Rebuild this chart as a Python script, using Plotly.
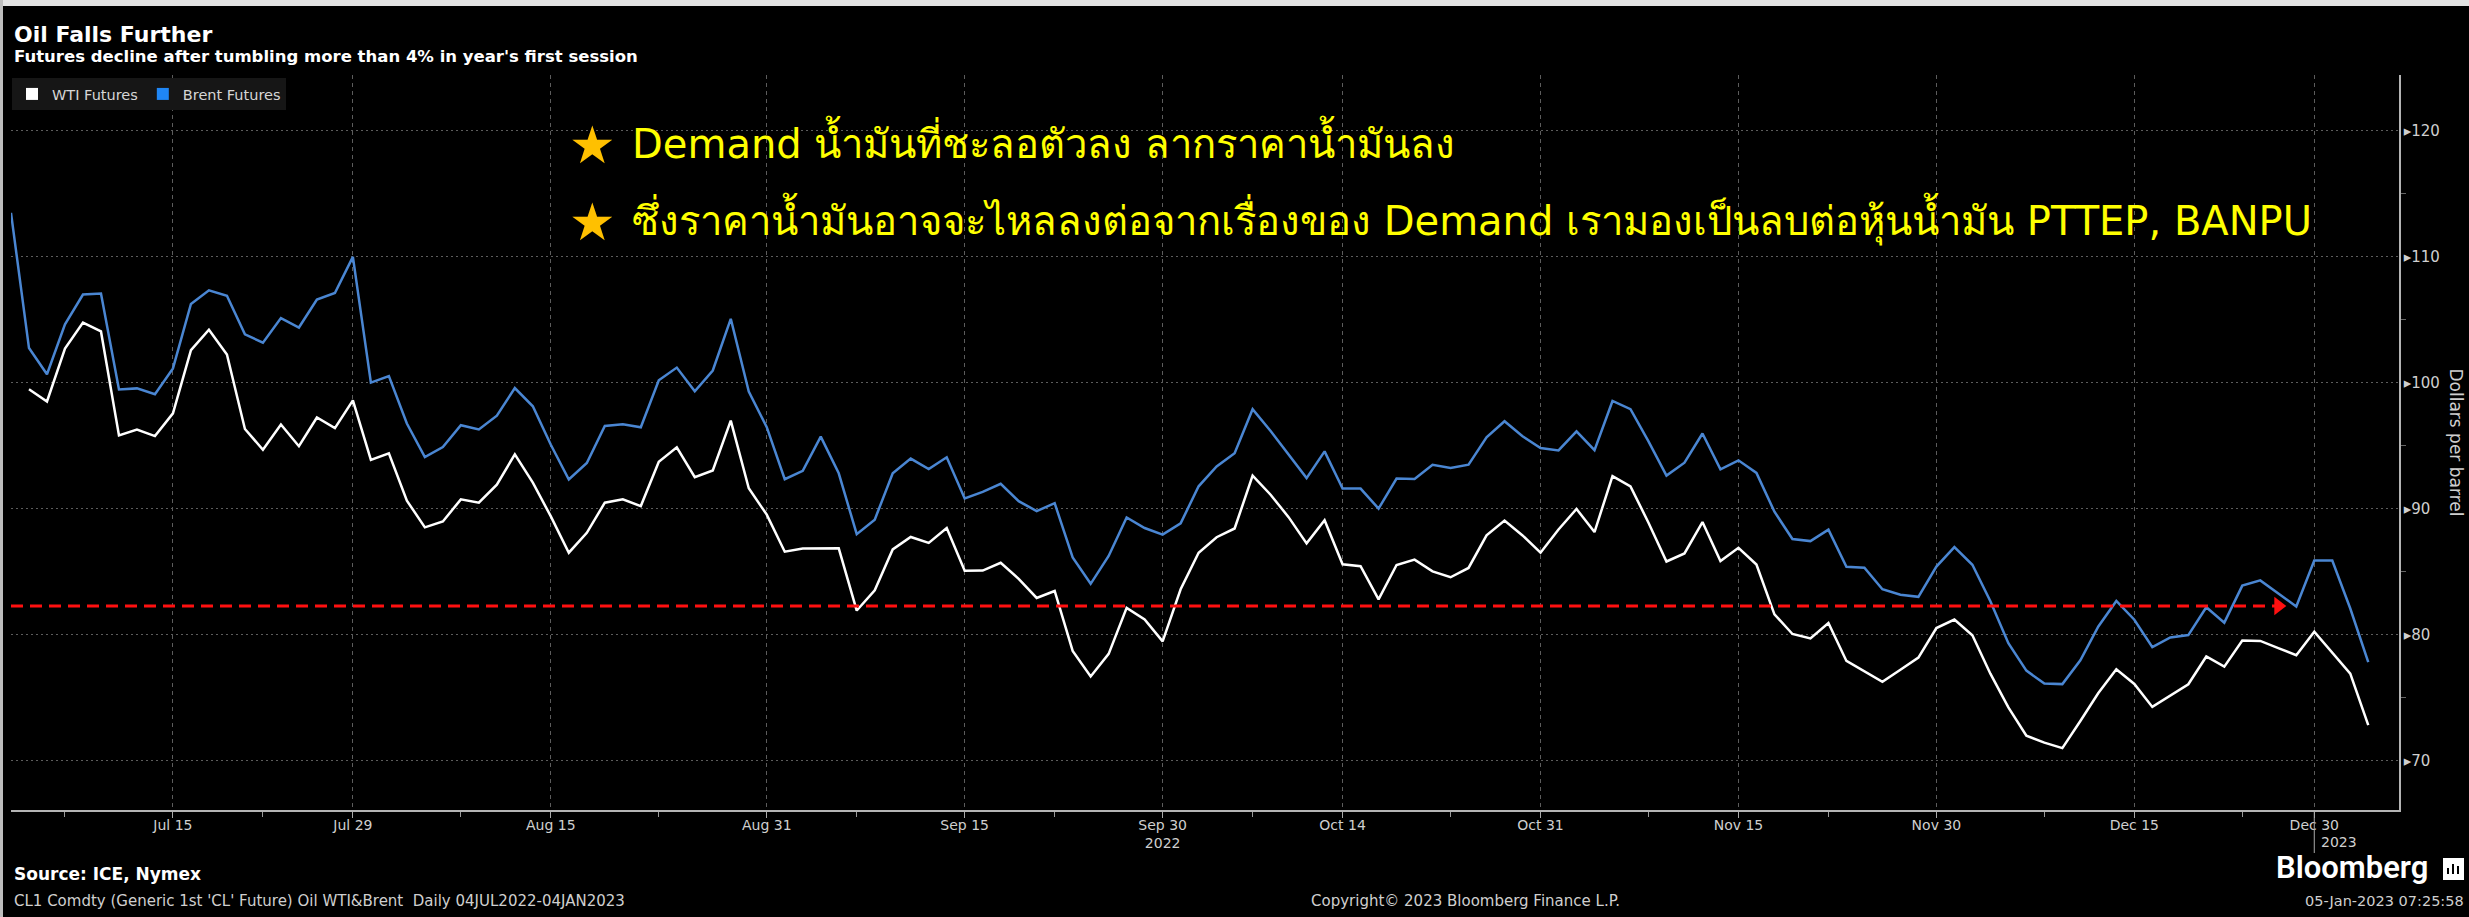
import pandas as pd
import plotly.graph_objects as go

# ---------------- data (weekday axis; 26 Dec 2022 both markets shut -> not on the axis) ----------------
dates = pd.bdate_range("2022-07-04", "2023-01-04")
dates = dates[dates != pd.Timestamp("2022-12-26")]

wti_futures = [
    None, 99.50, 98.53, 102.73, 104.79,      # Jul 4-8
    104.09, 95.84, 96.30, 95.78, 97.59,      # Jul 11-15
    102.60, 104.22, 102.26, 96.35, 94.70,    # Jul 18-22
    96.70, 94.98, 97.26, 96.42, 98.62,       # Jul 25-29
    93.89, 94.42, 90.66, 88.54, 89.01,       # Aug 1-5
    90.76, 90.50, 91.93, 94.34, 92.09,       # Aug 8-12
    89.41, 86.53, 88.11, 90.50, 90.77,       # Aug 15-19
    90.23, 93.74, 94.89, 92.52, 93.06,       # Aug 22-26
    97.01, 91.64, 89.55, 86.61, 86.87,       # Aug 29-Sep 2
    None, 86.88, 81.94, 83.54, 86.79,        # Sep 5-9
    87.78, 87.31, 88.48, 85.10, 85.11,       # Sep 12-16
    85.73, 84.45, 82.94, 83.49, 78.74,       # Sep 19-23
    76.71, 78.50, 82.15, 81.23, 79.49,       # Sep 26-30
    83.63, 86.52, 87.76, 88.45, 92.64,       # Oct 3-7
    91.13, 89.35, 87.27, 89.11, 85.61,       # Oct 10-14
    85.46, 82.82, 85.55, 85.98, 85.05,       # Oct 17-21
    84.58, 85.32, 87.91, 89.08, 87.90,       # Oct 24-28
    86.53, 88.37, 90.00, 88.17, 92.61,       # Oct 31-Nov 4
    91.79, 88.91, 85.83, 86.47, 88.96,       # Nov 7-11
    85.87, 86.92, 85.59, 81.64, 80.08,       # Nov 14-18
    79.73, 80.95, 77.94, None, 76.28,        # Nov 21-25
    77.24, 78.20, 80.55, 81.22, 79.98,       # Nov 28-Dec 2
    76.93, 74.25, 72.01, 71.46, 71.02,       # Dec 5-9
    73.17, 75.39, 77.28, 76.11, 74.29,       # Dec 12-16
    75.19, 76.09, 78.29, 77.49, 79.56,       # Dec 19-23
    79.53, 78.96, 78.40, 80.26,              # Dec 27-30
    None, 76.93, 72.84,                      # Jan 2-4
]

brent_futures = [
    113.50, 102.77, 100.69, 104.65, 107.02,
    107.10, 99.49, 99.57, 99.10, 101.16,
    106.27, 107.35, 106.92, 103.86, 103.20,
    105.15, 104.40, 106.62, 107.14, 110.01,
    100.03, 100.54, 96.78, 94.12, 94.92,
    96.65, 96.31, 97.40, 99.60, 98.15,
    95.10, 92.34, 93.65, 96.59, 96.72,
    96.48, 100.22, 101.22, 99.34, 100.99,
    105.09, 99.31, 96.49, 92.36, 93.02,
    95.74, 92.83, 88.00, 89.15, 92.84,
    94.00, 93.17, 94.10, 90.84, 91.35,
    92.00, 90.62, 89.83, 90.46, 86.15,
    84.06, 86.27, 89.32, 88.49, 87.96,
    88.86, 91.80, 93.37, 94.42, 97.92,
    96.19, 94.29, 92.45, 94.57, 91.63,
    91.62, 90.03, 92.41, 92.38, 93.50,
    93.26, 93.52, 95.69, 96.96, 95.77,
    94.83, 94.65, 96.16, 94.67, 98.57,
    97.92, 95.36, 92.65, 93.67, 95.99,
    93.14, 93.86, 92.86, 89.78, 87.62,
    87.45, 88.36, 85.41, 85.34, 83.63,
    83.19, 83.03, 85.43, 86.97, 85.57,
    82.68, 79.35, 77.17, 76.15, 76.10,
    77.99, 80.68, 82.70, 81.21, 79.04,
    79.80, 79.99, 82.20, 80.98, 83.92,
    84.33, 83.26, 82.26, 85.91,
    85.91, 82.10, 77.84,
]

x_tick_dates = ["2022-07-15", "2022-07-29", "2022-08-15", "2022-08-31", "2022-09-15", "2022-09-30",
                "2022-10-14", "2022-10-31", "2022-11-15", "2022-11-30", "2022-12-15", "2022-12-30"]
x_tick_labels = ["Jul 15", "Jul 29", "Aug 15", "Aug 31", "Sep 15", "Sep 30<br>2022",
                 "Oct 14", "Oct 31", "Nov 15", "Nov 30", "Dec 15", "Dec 30"]
x_minor_dates = ["2022-07-07", "2022-07-22", "2022-08-08", "2022-08-23", "2022-09-07", "2022-09-22",
                 "2022-10-07", "2022-10-24", "2022-11-08", "2022-11-22", "2022-12-08", "2022-12-23"]
y_tick_values = [70, 80, 90, 100, 110, 120]
y_tick_labels = ["\u25b8" + str(v) for v in y_tick_values]
y_minor_values = [75, 85, 95, 105, 115]

# hand-drawn reference arrow (level and extent)
ref_level = 82.3
ref_start = "2022-07-04"
ref_end = "2022-12-28"

# ---------------- layout geometry ----------------
FIG_W, FIG_H = 2469, 917
ML, MR, MT, MB = 11, 70, 75, 107
PW, PH = FIG_W - ML - MR, FIG_H - MT - MB


def px(x):
    return (x - ML) / PW


def py(y):
    return (FIG_H - MB - y) / PH


FONT = "DejaVu Sans"
LABEL_COL = "#cfcfcf"
GRID_COL = "#5c5c5c"

fig = go.Figure()

fig.add_trace(go.Scatter(x=dates, y=brent_futures, mode="lines", name="Brent Futures",
                         line=dict(color="#4a86d2", width=2.5), connectgaps=True,
                         showlegend=False, legendgroup="brent", hoverinfo="skip"))
fig.add_trace(go.Scatter(x=dates, y=wti_futures, mode="lines", name="WTI Futures",
                         line=dict(color="#ffffff", width=2.5), connectgaps=True,
                         showlegend=False, legendgroup="wti", hoverinfo="skip"))
# legend swatches (square keys like the original)
fig.add_trace(go.Scatter(x=[None], y=[None], mode="markers", name="WTI Futures", legendgroup="wti",
                         marker=dict(symbol="square", size=15, color="#ffffff")))
fig.add_trace(go.Scatter(x=[None], y=[None], mode="markers", name="Brent Futures", legendgroup="brent",
                         marker=dict(symbol="square", size=15, color="#1f86f5")))

# red dashed arrow
fig.add_trace(go.Scatter(x=[ref_start, ref_end], y=[ref_level, ref_level], mode="lines",
                         line=dict(color="#ff1010", width=3, dash="12px,7px"),
                         showlegend=False, hoverinfo="skip"))
fig.add_trace(go.Scatter(x=[ref_end], y=[ref_level], mode="markers",
                         marker=dict(symbol="triangle-right", size=16, color="#ff1010", line=dict(width=0)),
                         showlegend=False, hoverinfo="skip"))

THAI_1 = "Demand น้ำมันที่ชะลอตัวลง ลากราคาน้ำมันลง"
THAI_2 = "ซึ่งราคาน้ำมันอาจจะไหลลงต่อจากเรื่องของ Demand เรามองเป็นลบต่อหุ้นน้ำมัน PTTEP, BANPU"

annotations = [
    dict(text="<b>Oil Falls Further</b>", x=px(12), y=py(34), xanchor="left", yanchor="middle",
         font=dict(family=FONT, size=22, color="#ffffff")),
    dict(text="<b>Futures decline after tumbling more than 4% in year's first session</b>",
         x=px(12), y=py(57), xanchor="left", yanchor="middle",
         font=dict(family=FONT, size=16.5, color="#ffffff")),
    dict(text="\u2605", x=px(592), y=py(145), xanchor="center", yanchor="middle",
         font=dict(family=FONT, size=52, color="#ffc000")),
    dict(text=THAI_1, x=px(630), y=py(141), xanchor="left", yanchor="middle",
         font=dict(size=40, color="#ffff00")),
    dict(text="\u2605", x=px(592), y=py(222), xanchor="center", yanchor="middle",
         font=dict(family=FONT, size=52, color="#ffc000")),
    dict(text=THAI_2, x=px(630), y=py(219), xanchor="left", yanchor="middle",
         font=dict(size=40, color="#ffff00")),
    dict(text="Dollars per barrel", x=px(2456), y=0.5, xanchor="center", yanchor="middle",
         textangle=90, font=dict(family=FONT, size=17, color=LABEL_COL)),
    dict(text="2023", x=px(2319), y=py(842), xanchor="left", yanchor="middle",
         font=dict(family=FONT, size=14, color=LABEL_COL)),
    dict(text="<b>Source: ICE, Nymex</b>", x=px(12), y=py(874), xanchor="left", yanchor="middle",
         font=dict(family=FONT, size=17, color="#ffffff")),
    dict(text="CL1 Comdty (Generic 1st 'CL' Future) Oil WTI&Brent  Daily 04JUL2022-04JAN2023",
         x=px(12), y=py(901), xanchor="left", yanchor="middle",
         font=dict(family=FONT, size=15, color=LABEL_COL)),
    dict(text="Copyright\u00a9 2023 Bloomberg Finance L.P.", x=px(1466), y=py(901),
         xanchor="center", yanchor="middle", font=dict(family=FONT, size=15, color=LABEL_COL)),
    dict(text="05-Jan-2023 07:25:58", x=px(2466), y=py(901), xanchor="right", yanchor="middle",
         font=dict(family=FONT, size=14.5, color=LABEL_COL)),
    dict(text="Bloomberg", x=px(2430), y=py(867), xanchor="right", yanchor="middle",
         font=dict(family="Roboto", size=31, color="#ffffff", weight=600)),
]
for a in annotations:
    a.update(xref="paper", yref="paper", showarrow=False)

shapes = [
    # light strips at the very top / left edge of the screenshot
    dict(type="rect", xref="paper", yref="paper", x0=px(0), x1=px(FIG_W), y0=py(6), y1=py(0),
         fillcolor="#e2e2e2", line=dict(width=0), layer="above"),
    dict(type="rect", xref="paper", yref="paper", x0=px(0), x1=px(3), y0=py(FIG_H), y1=py(0),
         fillcolor="#bdbdbd", line=dict(width=0), layer="above"),
    # year separator below Dec 30
    dict(type="line", xref="x", yref="paper", x0="2022-12-30", x1="2022-12-30", y0=py(812), y1=py(853),
         line=dict(color="#aaaaaa", width=1)),
    # Bloomberg icon
    dict(type="rect", xref="paper", yref="paper", x0=px(2443), x1=px(2464), y0=py(880), y1=py(858),
         fillcolor="#ffffff", line=dict(width=0)),
    dict(type="rect", xref="paper", yref="paper", x0=px(2447), x1=px(2449), y0=py(874), y1=py(868),
         fillcolor="#000000", line=dict(width=0)),
    dict(type="rect", xref="paper", yref="paper", x0=px(2452), x1=px(2454), y0=py(874), y1=py(864),
         fillcolor="#000000", line=dict(width=0)),
    dict(type="rect", xref="paper", yref="paper", x0=px(2457), x1=px(2459), y0=py(874), y1=py(866),
         fillcolor="#000000", line=dict(width=0)),
]

fig.update_layout(
    width=FIG_W, height=FIG_H,
    margin=dict(l=ML, r=MR, t=MT, b=MB, autoexpand=False),
    paper_bgcolor="#000000", plot_bgcolor="#000000",
    font=dict(family=FONT, color=LABEL_COL),
    showlegend=True,
    legend=dict(orientation="h", x=px(12), y=py(78), xanchor="left", yanchor="top",
                bgcolor="#161616", borderwidth=0, font=dict(family=FONT, size=14.5, color="#d6d6d6"),
                itemsizing="constant", itemwidth=30),
    annotations=annotations,
    shapes=shapes,
    hovermode=False,
)

fig.update_xaxes(
    type="date",
    range=["2022-07-04", "2023-01-05 17:00"],
    rangebreaks=[dict(bounds=["sat", "mon"]), dict(values=["2022-12-26"])],
    tickmode="array", tickvals=x_tick_dates, ticktext=x_tick_labels,
    tickfont=dict(family=FONT, size=14, color=LABEL_COL),
    ticks="outside", ticklen=6, tickcolor="#aaaaaa", tickwidth=1, ticklabelstandoff=-5,
    showline=True, linecolor="#b4b4b4", linewidth=2,
    showgrid=True, gridcolor=GRID_COL, gridwidth=1, griddash="4px,4px",
    minor=dict(tickmode="array", tickvals=x_minor_dates, ticks="outside", ticklen=5,
               tickcolor="#999999", showgrid=False),
    zeroline=False, fixedrange=True,
)
fig.update_yaxes(
    side="right", range=[66.11, 124.44],
    tickmode="array", tickvals=y_tick_values, ticktext=y_tick_labels,
    tickfont=dict(family=FONT, size=15, color=LABEL_COL),
    ticks="", showline=True, linecolor="#b4b4b4", linewidth=1.5,
    showgrid=True, gridcolor=GRID_COL, gridwidth=1, griddash="2px,3px",
    minor=dict(tickmode="array", tickvals=y_minor_values, ticks="outside", ticklen=5,
               tickcolor="#666666", showgrid=False),
    zeroline=False, fixedrange=True,
)

fig.write_html("out.html", config={"displayModeBar": False},
               post_script="document.body.style.margin='0px';document.body.style.overflow='hidden';")
